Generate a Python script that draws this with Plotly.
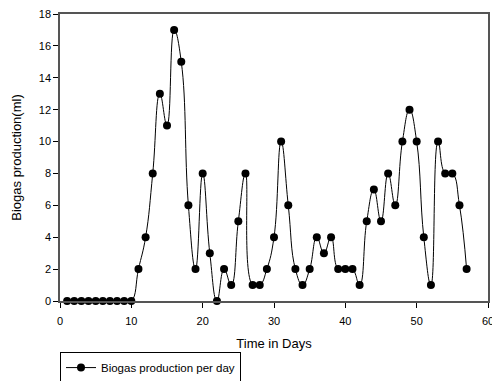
import plotly.graph_objects as go

days = list(range(1, 58))
biogas = [0, 0, 0, 0, 0, 0, 0, 0, 0, 0,
          2, 4, 8, 13, 11, 17, 15, 6, 2, 8,
          3, 0, 2, 1, 5, 8, 1, 1, 2, 4,
          10, 6, 2, 1, 2, 4, 3, 4, 2, 2,
          2, 1, 5, 7, 5, 8, 6, 10, 12, 10,
          4, 1, 10, 8, 8, 6, 2]
x_ticks = [0, 10, 20, 30, 40, 50, 60]
y_ticks = [0, 2, 4, 6, 8, 10, 12, 14, 16, 18]

fig = go.Figure()
fig.add_trace(go.Scatter(
    x=days, y=biogas, mode="lines+markers",
    name="Biogas production per day",
    line=dict(color="black", width=1, shape="spline", smoothing=1.3),
    marker=dict(color="black", size=8),
    cliponaxis=False,
))

fig.update_layout(
    width=492, height=395,
    margin=dict(l=60, r=4, t=14, b=94),
    paper_bgcolor="white", plot_bgcolor="white",
    font=dict(family="Liberation Sans, Arial, sans-serif", size=11, color="black"),
    showlegend=True,
    legend=dict(x=0, y=-0.178, xanchor="left", yanchor="top",
                bordercolor="black", borderwidth=1, bgcolor="white",
                font=dict(size=11.5)),
    xaxis=dict(range=[0, 60], tickvals=x_ticks, ticks="outside", ticklen=5,
               showgrid=False, zeroline=False, showline=True, linecolor="#555",
               linewidth=1.5, mirror=True, tickcolor="black", automargin=False,
               ticklabeloverflow="allow", ticklabelstandoff=4,
               title=dict(text="Time in Days", font=dict(size=13), standoff=13)),
    yaxis=dict(range=[0, 18], tickvals=y_ticks, ticks="outside", ticklen=5,
               showgrid=False, zeroline=False, showline=True, linecolor="#555",
               linewidth=1.5, mirror=True, tickcolor="black", automargin=False,
               title=dict(text="Biogas production(ml)", font=dict(size=13), standoff=14)),
)

fig.write_html("out.html",
               config={"displayModeBar": False},
               post_script="document.body.style.margin='0';document.body.style.overflow='hidden';")
